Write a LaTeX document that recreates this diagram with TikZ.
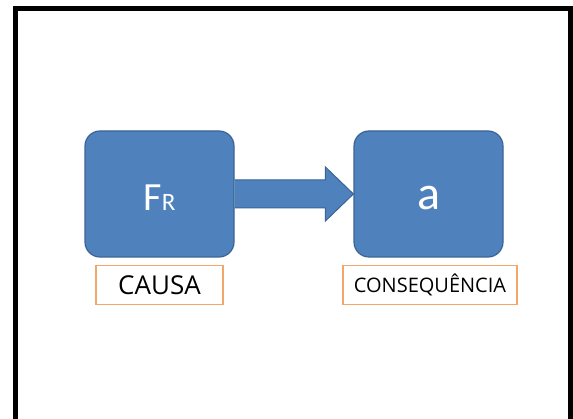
\documentclass[tikz,border=0pt]{standalone}
\usepackage{fontspec}
\setmainfont{Open Sans}
\newfontfamily\boxfont{Carlito}
\usetikzlibrary{positioning}
\usetikzlibrary{arrows.meta}
\usetikzlibrary{calc}

\definecolor{officeblue}{HTML}{4F81BD}
\definecolor{officeline}{HTML}{3A6496}
\definecolor{labelorange}{HTML}{F2A669}

\begin{document}
\begin{tikzpicture}[x=1pt, y=-1pt,
    bloco/.style={draw=officeline, fill=officeblue, line width=1.2pt,
        rounded corners=15pt, minimum width=149pt, minimum height=126pt,
        text=white, font=\boxfont, inner sep=0pt, text depth=0pt},
    rotulo/.style={draw=labelorange, line width=1.3pt, fill=white,
        minimum height=39pt, inner sep=0pt},
    seta/.style={draw=officeline, fill=officeblue, line width=1pt}]
    \useasboundingbox (0,0) rectangle (573,419);
    \fill[white] (0,0) rectangle (573,419);
    \draw[line width=5pt] (15.5,430) -- (15.5,8.5) -- (570.5,8.5) -- (570.5,430);

    \node[bloco, text height=33pt] (fr) at (159.5,194)
        {\fontsize{40}{40}\selectfont F\fontsize{25}{25}\selectfont R};
    \node[bloco, text height=32pt] (a) at (428.5,194) {\fontsize{48}{48}\selectfont a};

    \node[rotulo, minimum width=127pt, below=7pt of fr] (causa)
        {\fontsize{26}{26}\selectfont CAUSA};
    \node[rotulo, minimum width=174pt, below=7pt of a, xshift=1.5pt] (consequencia)
        {\fontsize{20}{20}\selectfont CONSEQUÊNCIA};

    % seta larga de fr para a
    \filldraw[seta] ($(fr.east)+(0,-14)$) -- ($(a.west)+(-28,-14)$)
        -- ($(a.west)+(-28,-27)$) -- (a.west) -- ($(a.west)+(-28,27)$)
        -- ($(a.west)+(-28,14)$) -- ($(fr.east)+(0,14)$);
\end{tikzpicture}
\end{document}
